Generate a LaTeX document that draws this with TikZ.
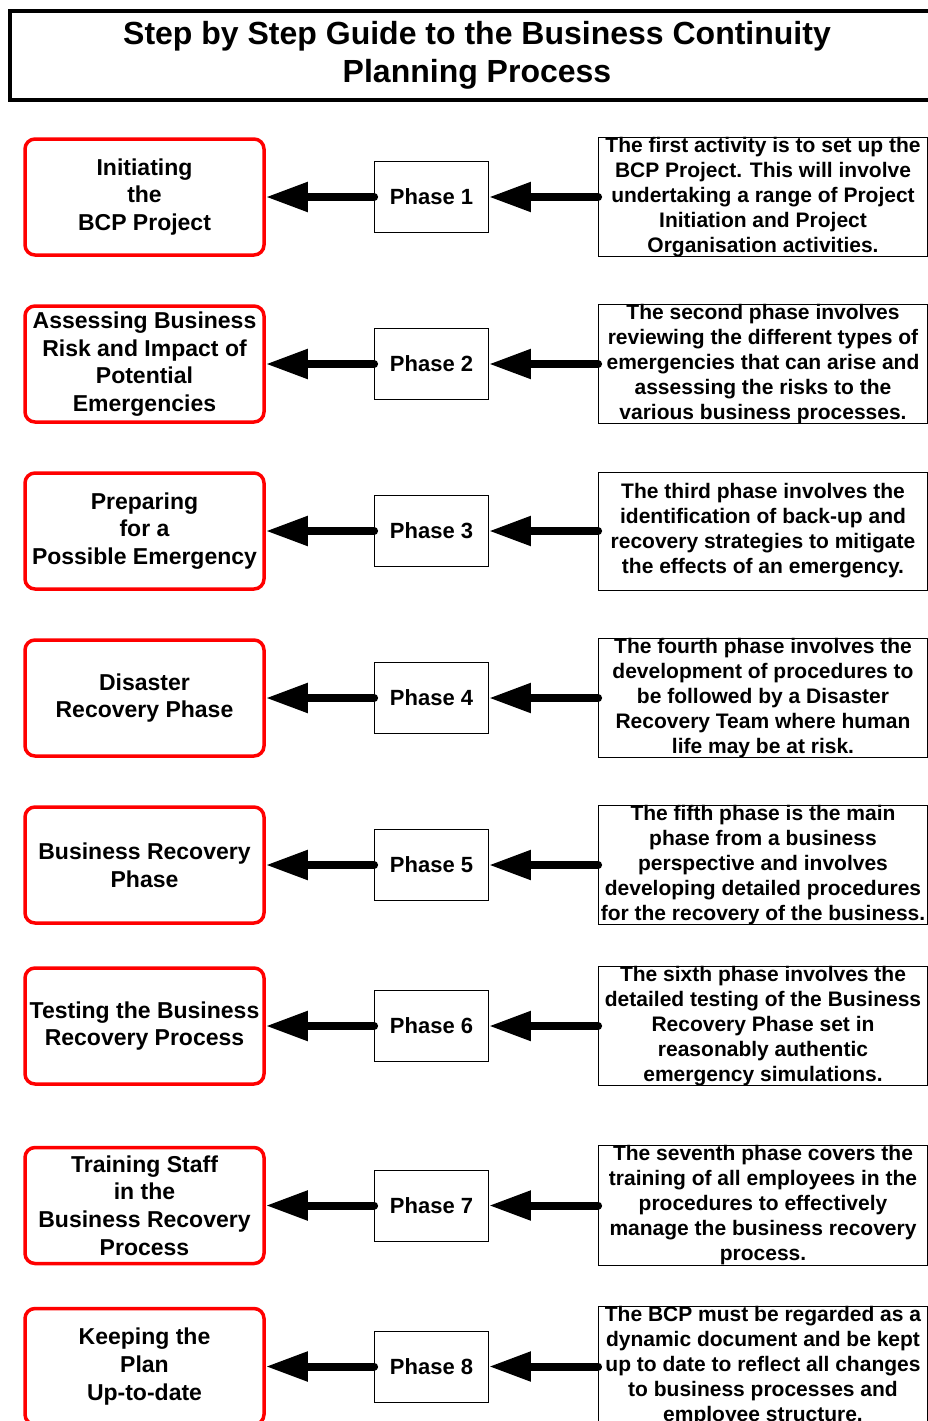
\documentclass[tikz,border=0pt]{standalone}
\usepackage{fontspec}
\setmainfont{Liberation Sans}
\usetikzlibrary{arrows.meta}

\begin{document}
\begin{tikzpicture}[
    x=1pt, y=-1pt,
    heading/.style={draw, line width=4pt, minimum width=934pt, minimum height=89pt, align=center, font=\bfseries\fontsize{32}{38}\selectfont},
    stage/.style={draw=red, line width=3.5pt, rounded corners=10pt, minimum width=239pt, minimum height=116pt, align=center, inner sep=1pt, font=\bfseries\fontsize{23}{27.7}\selectfont},
    phase/.style={draw, line width=0.8pt, minimum width=114pt, minimum height=71pt, font=\bfseries\fontsize{22}{26}\selectfont},
    desc/.style={draw, line width=0.8pt, minimum width=329pt, minimum height=118pt, align=center, inner xsep=1pt, inner ysep=0pt, font=\bfseries\fontsize{21}{25}\selectfont},
    flow/.style={line width=8pt, line cap=round, -{Triangle[length=42pt, width=28pt]}}
]
    \useasboundingbox (0,0) rectangle (927,1421);

    % --- Title ---
    \node[heading] (title) at (477,55.5) {Step by Step Guide to the Business Continuity\\Planning Process};

    % --- Phase 1 ---
    \node[stage] (s1) at (144.5,197) {Initiating\\the\\BCP Project};
    \node[phase] (p1) at (431.5,197) {Phase 1};
    \node[desc] (d1) at (763,197) {The first activity is to set up the\\BCP Project. This will involve\\undertaking a range of Project\\Initiation and Project\\Organisation activities.};

    % --- Phase 2 ---
    \node[stage] (s2) at (144.5,364) {Assessing Business\\Risk and Impact of\\Potential\\Emergencies};
    \node[phase] (p2) at (431.5,364) {Phase 2};
    \node[desc] (d2) at (763,364) {The second phase involves\\reviewing the different types of\\emergencies that can arise and\\assessing the risks to the\\various business processes.};

    % --- Phase 3 ---
    \node[stage] (s3) at (144.5,531) {Preparing\\for a\\Possible Emergency};
    \node[phase] (p3) at (431.5,531) {Phase 3};
    \node[desc] (d3) at (763,531) {The third phase involves the\\identification of back-up and\\recovery strategies to mitigate\\the effects of an emergency.};

    % --- Phase 4 ---
    \node[stage] (s4) at (144.5,698) {Disaster\\Recovery Phase};
    \node[phase] (p4) at (431.5,698) {Phase 4};
    \node[desc] (d4) at (763,698) {The fourth phase involves the\\development of procedures to\\be followed by a Disaster\\Recovery Team where human\\life may be at risk.};

    % --- Phase 5 ---
    \node[stage] (s5) at (144.5,865) {Business Recovery\\Phase};
    \node[phase] (p5) at (431.5,865) {Phase 5};
    \node[desc] (d5) at (763,865) {The fifth phase is the main\\phase from a business\\perspective and involves\\developing detailed procedures\\for the recovery of the business.};

    % --- Phase 6 ---
    \node[stage] (s6) at (144.5,1026) {Testing the Business\\Recovery Process};
    \node[phase] (p6) at (431.5,1026) {Phase 6};
    \node[desc] (d6) at (763,1026) {The sixth phase involves the\\detailed testing of the Business\\Recovery Phase set in\\reasonably authentic\\emergency simulations.};

    % --- Phase 7 ---
    \node[stage] (s7) at (144.5,1205.5) {Training Staff\\in the\\Business Recovery\\Process};
    \node[phase] (p7) at (431.5,1205.5) {Phase 7};
    \node[desc] (d7) at (763,1205.5) {The seventh phase covers the\\training of all employees in the\\procedures to effectively\\manage the business recovery\\process.};

    % --- Phase 8 ---
    \node[stage] (s8) at (144.5,1366.5) {Keeping the\\Plan\\Up-to-date};
    \node[phase] (p8) at (431.5,1366.5) {Phase 8};
    \node[desc] (d8) at (763,1366.5) {The BCP must be regarded as a\\dynamic document and be kept\\up to date to reflect all changes\\to business processes and\\employee structure.};

    % Arrows from description to phase to stage
    \draw[flow] (p1.west) -- (s1.east);
    \draw[flow] (d1.west) -- (p1.east);
    \draw[flow] (p2.west) -- (s2.east);
    \draw[flow] (d2.west) -- (p2.east);
    \draw[flow] (p3.west) -- (s3.east);
    \draw[flow] (d3.west) -- (p3.east);
    \draw[flow] (p4.west) -- (s4.east);
    \draw[flow] (d4.west) -- (p4.east);
    \draw[flow] (p5.west) -- (s5.east);
    \draw[flow] (d5.west) -- (p5.east);
    \draw[flow] (p6.west) -- (s6.east);
    \draw[flow] (d6.west) -- (p6.east);
    \draw[flow] (p7.west) -- (s7.east);
    \draw[flow] (d7.west) -- (p7.east);
    \draw[flow] (p8.west) -- (s8.east);
    \draw[flow] (d8.west) -- (p8.east);

\end{tikzpicture}
\end{document}
